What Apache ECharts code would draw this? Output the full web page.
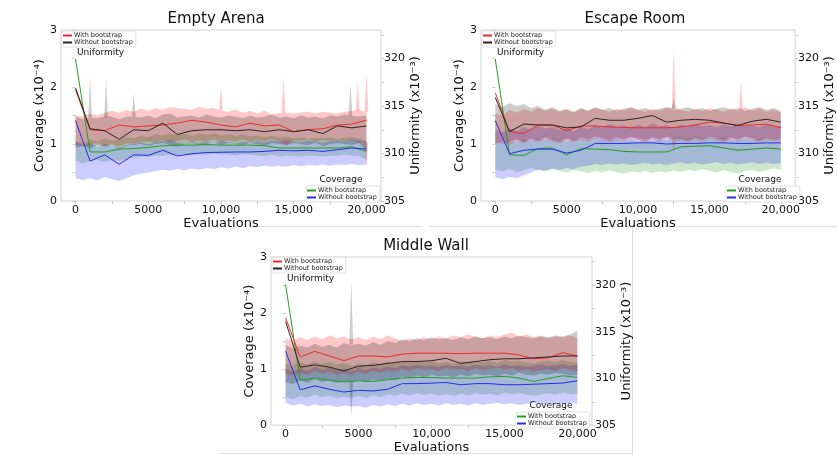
<!DOCTYPE html>
<html>
<head>
<meta charset="utf-8">
<script src="https://cdn.jsdelivr.net/npm/echarts@6/dist/echarts.min.js"></script>
<style>html,body{margin:0;padding:0;background:#fff}#chart{width:837px;height:455px}</style>
</head>
<body>
<div id="chart"></div>
<script>
// ---------- data ----------
const evalLine = [0,1000,2000,3000,4000,5000,6000,7000,8000,9000,10000,11000,12000,13000,14000,15000,16000,17000,18000,19000,20000];
const evalBand = [0,500,1000,1500,2000,2500,3000,3500,4000,4500,5000,5500,6000,6500,7000,7500,8000,8500,9000,9500,10000,10500,11000,11500,12000,12500,13000,13500,14000,14500,15000,15500,16000,16500,17000,17500,18000,18500,19000,19500,20000];
const xTickValues = [0,2500,5000,7500,10000,12500,15000,17500,20000];
const xLabelValues = [0,5000,10000,15000,20000];
const covTickValues = [0,0.5,1,1.5,2,2.5,3];
const covLabelValues = [0,1,2,3];
const uniTickValues = [305,307.5,310,312.5,315,317.5,320,322.5];
const uniLabelValues = [305,310,315,320];
const panelTitles = ['Empty Arena','Escape Room','Middle Wall'];

// Empty Arena
const ea_uniWith    = [316.7,312.5,312.4,313.0,312.8,312.9,313.0,313.2,313.5,313.3,313.0,312.8,313.2,312.9,313.0,312.3,312.5,312.6,313.0,313.1,313.5];
const ea_uniWithout = [316.9,312.6,312.4,311.5,312.5,312.4,313.2,312.0,312.4,312.5,312.5,312.4,312.5,312.3,312.5,312.3,312.5,312.1,312.9,312.7,312.9];
const ea_covWith    = [2.49,0.86,0.86,0.91,0.92,0.94,0.97,0.98,0.98,0.99,0.98,0.98,0.98,0.97,0.93,0.93,0.93,0.93,0.93,0.95,0.87];
const ea_covWithout = [1.41,0.70,0.81,0.645,0.81,0.80,0.89,0.79,0.83,0.85,0.855,0.86,0.86,0.87,0.89,0.88,0.89,0.87,0.90,0.93,0.91];
const ea_uniWithHi    = [314.0,313.9,314.2,314.0,314.3,314.5,314.3,314.6,314.4,314.7,314.5,314.8,314.6,314.9,314.8,314.7,314.6,314.9,314.7,314.8,314.5,314.4,314.6,314.3,314.5,314.2,314.5,314.1,314.3,314.3,314.2,314.3,314.4,314.2,314.4,314.3,314.2,314.4,314.5,314.6,314.4];
const ea_uniWithLo    = [311.0,310.8,310.9,311.1,310.8,311.0,310.7,311.1,311.0,311.2,311.3,311.1,311.4,311.2,311.3,311.5,311.2,311.4,311.3,311.5,311.2,311.4,311.3,311.5,311.2,311.4,311.3,311.5,311.2,310.9,311.4,311.3,311.5,311.2,311.4,311.3,311.5,311.3,311.4,311.1,311.2];
const ea_uniWithoutHi = [313.9,313.6,313.8,313.7,313.9,313.9,313.6,313.9,313.9,313.8,314.0,313.7,314.1,314.2,313.8,313.9,314.0,313.8,314.1,313.9,313.8,314.0,313.9,313.7,314.0,313.8,313.9,314.1,313.8,313.9,313.7,314.0,313.8,313.9,313.7,314.0,313.9,314.1,314.0,313.9,314.0];
const ea_uniWithoutLo = [310.6,310.8,310.5,310.9,310.7,310.9,310.4,310.8,310.9,311.0,310.8,311.0,311.1,310.9,310.7,311.0,311.1,310.9,311.0,311.2,310.9,311.1,311.0,310.9,311.1,311.0,310.8,311.1,311.0,310.9,311.1,311.0,310.9,311.1,310.8,311.0,311.1,311.0,310.9,311.1,310.2];
const ea_covWithHi    = [1.05,1.02,1.08,1.05,1.10,1.06,1.08,1.12,1.10,1.14,1.12,1.17,1.15,1.19,1.16,1.18,1.14,1.18,1.16,1.19,1.15,1.17,1.14,1.17,1.13,1.15,1.12,1.14,1.11,1.13,1.10,1.12,1.09,1.11,1.10,1.12,1.09,1.11,1.12,1.10,1.05];
const ea_covWithLo    = [0.70,0.66,0.70,0.72,0.68,0.72,0.70,0.74,0.76,0.78,0.77,0.80,0.79,0.81,0.80,0.82,0.80,0.82,0.81,0.83,0.81,0.82,0.80,0.82,0.81,0.80,0.79,0.81,0.78,0.80,0.79,0.78,0.80,0.79,0.78,0.80,0.79,0.81,0.80,0.79,0.72];
const ea_covWithoutHi = [1.05,0.98,1.02,0.95,1.00,0.97,0.93,0.98,1.00,1.02,0.99,1.03,1.05,1.08,1.02,1.00,1.03,1.01,1.04,1.02,1.05,1.03,1.01,1.04,1.02,1.05,1.03,1.06,1.04,1.07,1.05,1.03,1.06,1.04,1.02,1.05,1.07,1.05,1.08,1.06,1.04];
const ea_covWithoutLo = [0.40,0.37,0.40,0.36,0.42,0.38,0.35,0.40,0.45,0.48,0.50,0.52,0.55,0.53,0.56,0.54,0.57,0.55,0.58,0.56,0.59,0.57,0.60,0.58,0.61,0.59,0.62,0.60,0.62,0.60,0.63,0.61,0.63,0.62,0.64,0.62,0.64,0.63,0.65,0.63,0.64];
// narrow single-sample spikes: [evaluation, band edge, spike value]
const ea_uniWithPeaks    = [[10000,314.5,317.1],[14300,314.3,318.0],[19400,314.5,317.5],[20000,314.4,318.5],[20000,311.2,308.6]];
const ea_uniWithoutPeaks = [[1000,313.8,318.0],[2100,313.8,317.8],[4000,313.9,316.4],[18900,314.0,317.3]];

// Escape Room
const er_uniWith    = [316.4,312.3,312.1,313.0,313.0,312.4,312.9,312.9,312.8,312.75,312.7,312.7,312.7,312.8,313.0,313.3,313.2,312.95,313.0,313.1,312.7];
const er_uniWithout = [315.9,312.3,313.1,313.0,313.0,312.7,312.8,313.7,313.5,313.5,313.7,314.0,313.3,313.5,313.6,313.5,313.2,312.95,313.4,313.6,313.3];
const er_covWith    = [2.49,0.81,0.80,0.92,0.93,0.81,0.92,0.91,0.90,0.87,0.86,0.86,0.86,0.95,0.96,0.97,0.93,0.89,0.91,0.93,0.91];
const er_covWithout = [1.41,0.83,0.89,0.91,0.91,0.84,0.89,1.01,1.01,1.01,1.02,1.02,1.00,1.01,1.01,1.02,1.02,1.01,1.01,1.02,1.02];
const er_uniWithHi    = [314.2,314.0,314.6,314.3,314.7,314.4,314.8,314.5,314.7,314.4,314.6,314.3,314.7,314.5,314.8,314.6,314.4,314.7,314.5,314.8,314.6,314.4,314.7,314.5,314.8,314.6,314.6,314.4,314.7,314.5,314.8,314.6,314.4,314.7,314.5,314.9,314.5,314.7,314.4,314.6,314.3];
const er_uniWithLo    = [311.0,311.2,310.9,311.3,311.1,311.4,311.2,311.5,311.3,311.1,311.4,311.2,311.5,311.3,311.6,311.4,311.2,311.5,311.3,311.6,311.4,311.2,311.5,311.3,311.6,311.3,311.4,311.2,311.5,311.3,311.6,311.4,311.2,311.5,311.3,311.6,311.4,311.2,311.5,311.3,311.4];
const er_uniWithoutHi = [315.2,314.9,315.3,315.0,315.2,314.8,315.0,314.6,314.9,314.5,314.7,314.4,314.8,314.5,314.9,314.6,314.8,314.5,314.7,314.9,314.6,314.8,314.5,314.7,314.9,314.8,314.7,314.9,314.6,314.8,314.5,314.7,314.9,314.6,314.8,314.5,314.7,314.9,314.6,314.8,314.5];
const er_uniWithoutLo = [311.2,311.0,311.3,311.5,311.2,311.6,311.4,311.7,311.5,311.3,311.6,311.4,311.7,311.5,311.8,311.6,311.4,311.7,311.5,311.8,311.6,311.4,311.7,311.5,311.8,311.5,311.6,311.4,311.7,311.5,311.8,311.6,311.4,311.7,311.5,311.8,311.6,311.4,311.7,311.5,311.6];
const er_covWithHi    = [1.05,1.00,1.06,1.02,1.08,1.05,1.10,1.07,1.11,1.06,1.04,1.08,1.10,1.07,1.11,1.08,1.06,1.09,1.05,1.08,1.04,1.07,1.05,1.08,1.06,1.10,1.12,1.09,1.13,1.10,1.12,1.09,1.11,1.08,1.06,1.09,1.07,1.10,1.12,1.09,1.10];
const er_covWithLo    = [0.55,0.52,0.56,0.50,0.54,0.58,0.55,0.52,0.56,0.53,0.50,0.54,0.52,0.49,0.53,0.50,0.54,0.51,0.48,0.52,0.50,0.53,0.49,0.52,0.50,0.54,0.51,0.55,0.52,0.56,0.53,0.50,0.54,0.51,0.48,0.52,0.55,0.51,0.54,0.57,0.55];
const er_covWithoutHi = [1.25,1.20,1.28,1.22,1.30,1.25,1.32,1.27,1.30,1.24,1.28,1.22,1.30,1.26,1.33,1.29,1.35,1.30,1.33,1.28,1.34,1.30,1.36,1.31,1.33,1.28,1.34,1.30,1.35,1.31,1.33,1.29,1.34,1.30,1.36,1.31,1.33,1.29,1.34,1.30,1.32];
const er_covWithoutLo = [0.42,0.38,0.42,0.40,0.45,0.50,0.55,0.53,0.57,0.55,0.58,0.56,0.60,0.62,0.65,0.63,0.66,0.64,0.66,0.63,0.65,0.67,0.64,0.66,0.63,0.66,0.68,0.65,0.67,0.64,0.66,0.68,0.65,0.67,0.64,0.66,0.68,0.65,0.67,0.65,0.66];
const er_uniWithPeaks    = [[12500,314.7,321.0],[12500,311.3,310.2],[17200,314.6,317.7]];
const er_uniWithoutPeaks = [[12500,314.8,315.8]];

// Middle Wall
const mw_uniWith    = [316.5,312.3,312.9,312.4,311.9,312.4,312.4,312.3,312.6,312.7,312.7,312.7,312.65,312.7,312.7,312.7,312.5,312.1,312.2,312.75,312.4];
const mw_uniWithout = [316.1,311.2,311.45,311.2,310.8,311.3,311.4,311.6,311.8,311.8,311.9,312.15,311.6,311.8,312.0,312.1,312.1,312.2,312.3,312.4,312.4];
const mw_covWith    = [2.51,0.80,0.84,0.80,0.77,0.79,0.78,0.81,0.84,0.85,0.85,0.84,0.84,0.84,0.86,0.87,0.84,0.78,0.83,0.88,0.85];
const mw_covWithout = [1.32,0.63,0.70,0.64,0.59,0.62,0.61,0.64,0.74,0.74,0.75,0.76,0.72,0.74,0.74,0.72,0.72,0.73,0.74,0.75,0.79];
const mw_uniWithHi    = [314.3,314.0,314.4,314.1,314.5,314.2,314.6,314.3,314.5,314.2,314.4,314.1,314.5,314.2,314.6,314.3,314.0,314.3,314.1,314.4,314.2,314.5,314.3,314.6,314.4,314.7,314.5,314.3,314.6,314.4,314.7,314.9,314.5,314.7,314.4,314.6,314.3,314.5,314.4,314.6,314.3];
const mw_uniWithLo    = [310.5,310.3,310.6,310.4,310.8,310.5,310.7,310.4,310.6,310.3,310.7,310.5,310.8,310.6,310.9,310.7,311.0,310.8,311.1,310.9,311.0,310.8,311.1,310.9,311.0,310.8,311.1,310.9,311.0,311.2,310.9,311.1,310.8,311.0,310.7,310.9,311.0,310.8,311.1,310.9,310.8];
const mw_uniWithoutHi = [313.6,313.2,313.5,313.3,313.7,313.4,313.6,313.3,313.8,313.5,313.7,313.5,313.9,313.6,314.0,313.8,314.2,314.0,314.3,314.1,314.4,314.2,314.3,314.1,314.4,314.2,314.5,314.3,314.4,314.2,314.5,314.3,314.6,314.4,314.3,314.5,314.4,314.6,314.5,314.7,315.1];
const mw_uniWithoutLo = [309.6,309.4,309.8,309.5,309.9,309.6,309.8,309.5,309.7,309.6,309.8,309.6,309.9,309.7,310.0,309.8,310.2,310.0,310.3,310.1,310.4,310.2,310.3,310.1,310.4,310.2,310.5,310.3,310.4,310.2,310.5,310.3,310.6,310.4,310.3,310.5,310.4,310.6,310.5,310.3,310.4];
const mw_covWithHi    = [1.10,1.05,1.12,1.08,1.14,1.10,1.13,1.08,1.11,1.06,1.10,1.07,1.12,1.09,1.13,1.10,1.14,1.11,1.15,1.12,1.14,1.11,1.13,1.10,1.14,1.11,1.15,1.12,1.14,1.11,1.16,1.13,1.15,1.12,1.10,1.13,1.15,1.12,1.16,1.13,1.12];
const mw_covWithLo    = [0.50,0.46,0.52,0.49,0.54,0.50,0.53,0.48,0.51,0.49,0.52,0.49,0.53,0.50,0.55,0.52,0.56,0.53,0.57,0.54,0.56,0.53,0.55,0.52,0.56,0.53,0.57,0.54,0.56,0.53,0.58,0.55,0.57,0.54,0.52,0.55,0.57,0.54,0.58,0.55,0.56];
const mw_covWithoutHi = [1.00,0.95,1.02,0.97,1.04,0.99,1.03,0.98,1.01,0.96,1.02,0.98,1.03,1.00,1.05,1.02,1.07,1.04,1.08,1.05,1.07,1.04,1.08,1.05,1.07,1.04,1.08,1.05,1.07,1.04,1.08,1.05,1.07,1.04,1.06,1.08,1.05,1.07,1.09,1.06,1.08];
const mw_covWithoutLo = [0.40,0.35,0.38,0.33,0.37,0.34,0.36,0.32,0.35,0.33,0.34,0.31,0.36,0.33,0.37,0.34,0.38,0.35,0.39,0.36,0.38,0.35,0.39,0.36,0.38,0.35,0.39,0.36,0.38,0.40,0.37,0.39,0.36,0.38,0.40,0.37,0.39,0.36,0.38,0.40,0.38];
const mw_uniWithPeaks    = [];
const mw_uniWithoutPeaks = [[4500,313.6,320.5],[4500,309.6,305.8]];

// ---------- layout / style ----------
const FONT = 'DejaVu Sans';
const PEAK_HALF_WIDTH = 130; // evaluations, visual width of a one-sample spike
const C = {
  red: '#ee2b2b', black: '#2e2222', green: '#22a022', blue: '#2a2ae8',
  redBand: 'rgba(255,0,0,0.21)', grayBand: 'rgba(0,0,0,0.2)',
  greenBand: 'rgba(0,140,0,0.2)', blueBand: 'rgba(0,0,255,0.2)'
};
const panels = [
  {key:'ea', title:panelTitles[0], grid:{left:61,top:30,width:320,height:171}, titleX:216, titleY:12,
   legTop:[62,31], uniText:[77,48], legBot:[306,186], covText:[341,175],
   d:{uw:ea_uniWith,uwo:ea_uniWithout,cw:ea_covWith,cwo:ea_covWithout,
      uwH:ea_uniWithHi,uwL:ea_uniWithLo,uwoH:ea_uniWithoutHi,uwoL:ea_uniWithoutLo,
      cwH:ea_covWithHi,cwL:ea_covWithLo,cwoH:ea_covWithoutHi,cwoL:ea_covWithoutLo,
      uwP:ea_uniWithPeaks,uwoP:ea_uniWithoutPeaks}},
  {key:'er', title:panelTitles[1], grid:{left:481,top:30,width:319,height:171}, titleX:635, titleY:12,
   legTop:[482,31], uniText:[497,48], legBot:[726,186], covText:[760,175],
   d:{uw:er_uniWith,uwo:er_uniWithout,cw:er_covWith,cwo:er_covWithout,
      uwH:er_uniWithHi,uwL:er_uniWithLo,uwoH:er_uniWithoutHi,uwoL:er_uniWithoutLo,
      cwH:er_covWithHi,cwL:er_covWithLo,cwoH:er_covWithoutHi,cwoL:er_covWithoutLo,
      uwP:er_uniWithPeaks,uwoP:er_uniWithoutPeaks}},
  {key:'mw', title:panelTitles[2], grid:{left:271,top:257,width:321,height:171}, titleX:426, titleY:239,
   legTop:[272,257], uniText:[287,274], legBot:[516,412], covText:[551,401],
   d:{uw:mw_uniWith,uwo:mw_uniWithout,cw:mw_covWith,cwo:mw_covWithout,
      uwH:mw_uniWithHi,uwL:mw_uniWithLo,uwoH:mw_uniWithoutHi,uwoL:mw_uniWithoutLo,
      cwH:mw_covWithHi,cwL:mw_covWithLo,cwoH:mw_covWithoutHi,cwoL:mw_covWithoutLo,
      uwP:mw_uniWithPeaks,uwoP:mw_uniWithoutPeaks}}
];

function fmtEval(v){
  if (v < 10000) return String(v);
  const s = String(v); return s.slice(0, s.length-3) + ',' + s.slice(s.length-3);
}

const option = {
  animation:false, backgroundColor:'#ffffff',
  textStyle:{fontFamily:FONT},
  grid:[], xAxis:[], yAxis:[], series:[], legend:[], title:[],
  graphic:[
    {type:'line', shape:{x1:252,y1:226.5,x2:422,y2:226.5}, style:{stroke:'#dddddd',lineWidth:1}, silent:true},
    {type:'line', shape:{x1:430,y1:226.5,x2:837,y2:226.5}, style:{stroke:'#dddddd',lineWidth:1}, silent:true},
    {type:'line', shape:{x1:632.5,y1:226.5,x2:632.5,y2:455}, style:{stroke:'#dddddd',lineWidth:1}, silent:true},
    {type:'line', shape:{x1:220,y1:453.5,x2:632,y2:453.5}, style:{stroke:'#dddddd',lineWidth:1}, silent:true}
  ]
};

// band polygon drawn through the axes' own coordinate system
function bandRenderer(color){
  return function(params, api){
    if (params.dataIndexInside !== 0) return null;
    const n = params.dataInsideLength;
    const top = [], bot = [];
    for (let k = 0; k < n; k++) {
      const x = api.value(0, k);
      top.push(api.coord([x, api.value(2, k)]));
      bot.push(api.coord([x, api.value(1, k)]));
    }
    return {type:'polygon', shape:{points: top.concat(bot.reverse())}, style:{fill:color}, silent:true};
  };
}
function peakRenderer(color){
  return function(params, api){
    const x = api.value(0), base = api.value(1), pk = api.value(2);
    return {type:'polygon', silent:true, style:{fill:color},
      shape:{points:[api.coord([x-PEAK_HALF_WIDTH, base]), api.coord([x, pk]), api.coord([x+PEAK_HALF_WIDTH, base])]}};
  };
}

const labelMap = {};
panels.forEach((p,i)=>{
  option.grid.push(Object.assign({show:true, borderColor:'#d2d2d2', borderWidth:1, backgroundColor:'transparent'}, p.grid));
  option.xAxis.push({
    type:'value', gridIndex:i, min:-1000, max:21000,
    name:'Evaluations', nameLocation:'middle', nameGap:14,
    nameTextStyle:{fontSize:13, color:'#111', fontFamily:FONT},
    axisLine:{show:false}, splitLine:{show:false},
    axisTick:{show:true, customValues:xTickValues, length:3, lineStyle:{color:'#cccccc'}},
    axisLabel:{customValues:xLabelValues, formatter:fmtEval, fontSize:11, color:'#111', margin:4, fontFamily:FONT}
  });
  option.yAxis.push({
    type:'value', gridIndex:i, position:'left', min:0, max:3,
    name:'Coverage (x10\u207B\u2074)', nameLocation:'middle', nameGap:15, nameRotate:90,
    nameTextStyle:{fontSize:13, color:'#111', fontFamily:FONT},
    axisLine:{show:false}, splitLine:{show:false},
    axisTick:{show:true, customValues:covTickValues, length:3, lineStyle:{color:'#cccccc'}},
    axisLabel:{customValues:covLabelValues, fontSize:11, color:'#111', margin:4, fontFamily:FONT}
  });
  option.yAxis.push({
    type:'value', gridIndex:i, position:'right', min:305, max:323,
    name:'Uniformity (x10\u207B\u00B3)', nameLocation:'middle', nameGap:27, nameRotate:90,
    nameTextStyle:{fontSize:13, color:'#111', fontFamily:FONT},
    axisLine:{show:false}, splitLine:{show:false},
    axisTick:{show:true, customValues:uniTickValues, length:3, lineStyle:{color:'#cccccc'}},
    axisLabel:{customValues:uniLabelValues, fontSize:11, color:'#111', margin:3, fontFamily:FONT}
  });
  const yCov = 2*i, yUni = 2*i+1;
  const band = (id, yIdx, lo, hi, color, peaks) => {
    option.series.push({
      type:'custom', name:p.key+'-'+id+'-band', xAxisIndex:i, yAxisIndex:yIdx,
      data:evalBand.map((x,k)=>[x, lo[k], hi[k]]),
      encode:{x:0, y:[1,2]}, renderItem:bandRenderer(color), silent:true, z:1
    });
    if (peaks && peaks.length) {
      option.series.push({
        type:'custom', name:p.key+'-'+id+'-peaks', xAxisIndex:i, yAxisIndex:yIdx,
        data:peaks, encode:{x:0, y:[1,2]}, renderItem:peakRenderer(color), silent:true, z:1, clip:true
      });
    }
  };
  band('cw', yCov, p.d.cwL, p.d.cwH, C.greenBand);
  band('cwo', yCov, p.d.cwoL, p.d.cwoH, C.blueBand);
  band('uw', yUni, p.d.uwL, p.d.uwH, C.redBand, p.d.uwP);
  band('uwo', yUni, p.d.uwoL, p.d.uwoH, C.grayBand, p.d.uwoP);
  const line = (id, yIdx, vals, color, label) => {
    const nm = p.key+'-'+id;
    labelMap[nm] = label;
    option.series.push({
      type:'line', name:nm, xAxisIndex:i, yAxisIndex:yIdx,
      data:evalLine.map((x,k)=>[x, vals[k]]), symbol:'none', showSymbol:false,
      lineStyle:{width:1, color:color}, itemStyle:{color:color}, z:3
    });
  };
  line('cw', yCov, p.d.cw, C.green, 'With bootstrap');
  line('cwo', yCov, p.d.cwo, C.blue, 'Without bootstrap');
  line('uw', yUni, p.d.uw, C.red, 'With bootstrap');
  line('uwo', yUni, p.d.uwo, C.black, 'Without bootstrap');

  const legBase = {
    orient:'vertical', itemGap:0, itemWidth:9, itemHeight:2, icon:'rect',
    padding:[1,3,1,1], borderColor:'#d8d8d8', borderWidth:0.8, borderRadius:2,
    backgroundColor:'rgba(255,255,255,0.8)', selectedMode:false,
    textStyle:{fontSize:6.5, lineHeight:7, color:'#222', fontFamily:FONT, padding:[0,0,0,-3]},
    formatter:(n)=>labelMap[n]
  };
  option.legend.push(Object.assign({}, legBase, {left:p.legTop[0], top:p.legTop[1], data:[p.key+'-uw', p.key+'-uwo']}));
  option.legend.push(Object.assign({}, legBase, {left:p.legBot[0], top:p.legBot[1], data:[p.key+'-cw', p.key+'-cwo']}));

  option.title.push({text:p.title, left:p.titleX, top:p.titleY, textAlign:'center', padding:0,
    textStyle:{fontSize:15, fontWeight:'normal', color:'#111', fontFamily:FONT}});
  option.title.push({text:'Uniformity', left:p.uniText[0], top:p.uniText[1], padding:0,
    textStyle:{fontSize:9, fontWeight:'normal', color:'#111', fontFamily:FONT}});
  option.title.push({text:'Coverage', left:p.covText[0], top:p.covText[1], textAlign:'center', padding:0,
    textStyle:{fontSize:9, fontWeight:'normal', color:'#111', fontFamily:FONT}});
});

const chart = echarts.init(document.getElementById('chart'), null, {renderer:'canvas', width:837, height:455});
chart.setOption(option);
</script>
</body>
</html>
